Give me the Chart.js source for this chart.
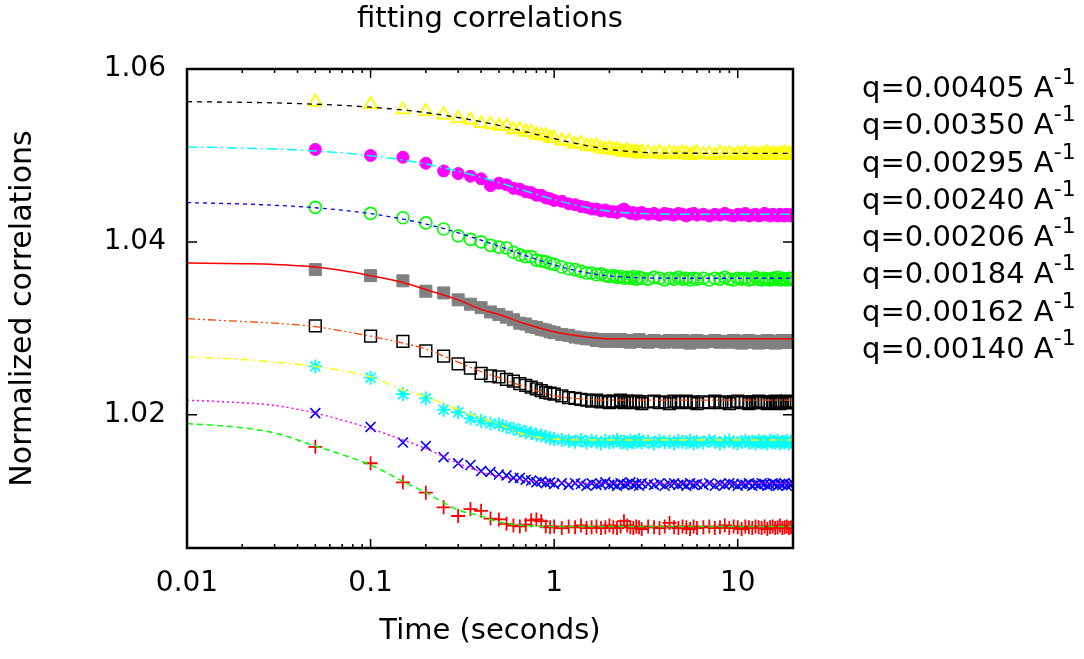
<!DOCTYPE html>
<html>
<head>
<meta charset="utf-8">
<script src="https://cdn.jsdelivr.net/npm/chart.js@4.4.1/dist/chart.umd.min.js"></script>
<style>
  html, body { margin: 0; padding: 0; background: #ffffff; }
  #wrap { position: relative; width: 1084px; height: 659px; overflow: hidden; }
  #legend { position: absolute; left: 862px; top: 70px; font-family: 'DejaVu Sans', sans-serif; font-size: 29px; line-height: 34.3px; color: #000; white-space: nowrap; }
  #legend .sup { font-size: 22px; position: relative; top: -13px; }
</style>
</head>
<body>
<div id="wrap">
  <canvas id="c" width="1084" height="659"></canvas>
  <div id="legend"></div>
</div>
<script>
// ---- data ----
const chartTitle = 'fitting correlations';
const xTitle = 'Time (seconds)';
const yTitle = 'Normalized correlations';
const qLabels = ['q=0.00405 A', 'q=0.00350 A', 'q=0.00295 A', 'q=0.00240 A', 'q=0.00206 A', 'q=0.00184 A', 'q=0.00162 A', 'q=0.00140 A'];
const qUnitExp = '-1';

const xTickValues = [0.01, 0.1, 1, 10];
const xTickLabels = ['0.01', '0.1', '1', '10'];
const xTickMarks = [0.01,0.02,0.03,0.04,0.05,0.06,0.07,0.08,0.09,0.1,0.2,0.3,0.4,0.5,0.6,0.7,0.8,0.9,1,2,3,4,5,6,7,8,9,10,20];
const yTickValues = [1.02, 1.04, 1.06];
const yTickLabels = ['1.02', '1.04', '1.06'];

const times = [
  0.05,0.1,0.15,0.2,0.25,0.3,0.35,0.4,0.45,0.5,0.55,0.6,0.65,0.7,0.75,0.8,0.85,0.9,0.95,1.0,
  1.1,1.2,1.3,1.4,1.5,1.6,1.7,1.8,1.9,2.0,2.1,2.2,2.3,2.4,2.5,2.6,2.7,2.8,2.9,3.0,
  3.25,3.5,3.75,4.0,4.25,4.5,4.75,5.0,5.25,5.5,5.75,6.0,
  6.5,7,7.5,8,8.5,9,9.5,10,10.5,11,11.5,12,12.5,13,13.5,14,14.5,15,15.5,16,16.5,17,17.5,18,18.5,19,19.5,20
];

const meas00405 = [
  1.0562,1.0559,1.0553,1.0551,1.0547,1.0543,1.0541,1.0537,1.0536,1.0534,1.0534,1.0530,1.0530,1.0527,1.0527,1.0524,1.0523,1.0523,1.0520,1.0520,
  1.0517,1.0516,1.0513,1.0514,1.0511,1.0510,1.0511,1.0508,1.0507,1.0508,1.0506,1.0507,1.0505,1.0504,1.0506,1.0503,1.0504,1.0504,1.0502,1.0504,
  1.0503,1.0502,1.0504,1.0501,1.0503,1.0502,1.0501,1.0503,1.0502,1.0500,1.0502,1.0503,
  1.0501,1.0502,1.0500,1.0503,1.0501,1.0502,1.0500,1.0502,1.0501,1.0503,1.0500,1.0502,1.0501,1.0500,1.0502,1.0501,1.0503,1.0500,1.0502,1.0501,1.0500,1.0502,1.0501,1.0503,1.0500,1.0502,1.0501,1.0502
];
const meas00350 = [
  1.0507,1.0500,1.0498,1.0491,1.0482,1.0479,1.0476,1.0473,1.0465,1.0468,1.0466,1.0462,1.0461,1.0458,1.0457,1.0454,1.0454,1.0451,1.0450,1.0448,
  1.0447,1.0444,1.0443,1.0441,1.0440,1.0438,1.0438,1.0436,1.0437,1.0435,1.0435,1.0434,1.0436,1.0438,1.0435,1.0433,1.0434,1.0432,1.0433,1.0434,
  1.0432,1.0433,1.0431,1.0433,1.0432,1.0431,1.0433,1.0432,1.0430,1.0432,1.0433,1.0431,
  1.0432,1.0430,1.0432,1.0431,1.0433,1.0431,1.0430,1.0432,1.0431,1.0433,1.0430,1.0431,1.0432,1.0430,1.0431,1.0433,1.0431,1.0430,1.0432,1.0431,1.0430,1.0432,1.0431,1.0430,1.0432,1.0431,1.0430,1.0432
];
const meas00295 = [
  1.0440,1.0433,1.0428,1.0422,1.0415,1.0407,1.0403,1.0400,1.0396,1.0394,1.0393,1.0388,1.0385,1.0383,1.0383,1.0379,1.0378,1.0377,1.0375,1.0374,
  1.0371,1.0369,1.0368,1.0366,1.0364,1.0364,1.0362,1.0363,1.0361,1.0360,1.0361,1.0359,1.0360,1.0358,1.0359,1.0358,1.0360,1.0357,1.0359,1.0358,
  1.0357,1.0359,1.0358,1.0356,1.0358,1.0357,1.0359,1.0357,1.0358,1.0356,1.0358,1.0357,
  1.0358,1.0356,1.0358,1.0357,1.0359,1.0357,1.0356,1.0358,1.0357,1.0358,1.0356,1.0357,1.0359,1.0357,1.0356,1.0358,1.0357,1.0356,1.0358,1.0357,1.0359,1.0356,1.0358,1.0357,1.0356,1.0358,1.0357,1.0358
];
const meas00240 = [
  1.0368,1.0361,1.0355,1.0343,1.0341,1.0333,1.0328,1.0324,1.0319,1.0316,1.0313,1.0310,1.0306,1.0305,1.0302,1.0301,1.0299,1.0298,1.0296,1.0295,
  1.0293,1.0292,1.0290,1.0289,1.0288,1.0288,1.0286,1.0287,1.0285,1.0287,1.0286,1.0285,1.0287,1.0285,1.0286,1.0284,1.0286,1.0285,1.0287,1.0285,
  1.0284,1.0286,1.0285,1.0284,1.0286,1.0285,1.0284,1.0286,1.0285,1.0283,1.0285,1.0286,
  1.0284,1.0285,1.0286,1.0284,1.0285,1.0284,1.0286,1.0285,1.0283,1.0285,1.0286,1.0284,1.0285,1.0283,1.0285,1.0284,1.0286,1.0284,1.0285,1.0283,1.0285,1.0284,1.0286,1.0284,1.0285,1.0284,1.0286,1.0285
];
const meas00206 = [
  1.0303,1.0291,1.0285,1.0274,1.0268,1.0259,1.0254,1.0248,1.0245,1.0244,1.0241,1.0239,1.0236,1.0234,1.0232,1.0230,1.0228,1.0226,1.0225,1.0224,
  1.0222,1.0220,1.0219,1.0218,1.0217,1.0216,1.0217,1.0215,1.0216,1.0214,1.0216,1.0215,1.0217,1.0214,1.0216,1.0215,1.0214,1.0216,1.0215,1.0213,
  1.0215,1.0216,1.0214,1.0215,1.0213,1.0216,1.0214,1.0215,1.0216,1.0214,1.0215,1.0213,
  1.0215,1.0214,1.0216,1.0214,1.0215,1.0213,1.0215,1.0216,1.0214,1.0215,1.0213,1.0215,1.0214,1.0216,1.0214,1.0215,1.0213,1.0215,1.0214,1.0216,1.0214,1.0213,1.0215,1.0214,1.0216,1.0214,1.0215,1.0214
];
const meas00184 = [
  1.0256,1.0243,1.0224,1.0219,1.0206,1.0203,1.0196,1.0193,1.0190,1.0189,1.0186,1.0184,1.0182,1.0180,1.0179,1.0177,1.0176,1.0175,1.0173,1.0172,
  1.0171,1.0170,1.0169,1.0171,1.0168,1.0170,1.0169,1.0167,1.0170,1.0168,1.0169,1.0171,1.0168,1.0169,1.0167,1.0170,1.0168,1.0169,1.0171,1.0168,
  1.0169,1.0167,1.0170,1.0168,1.0169,1.0167,1.0170,1.0169,1.0168,1.0170,1.0167,1.0169,
  1.0168,1.0170,1.0169,1.0167,1.0169,1.0170,1.0168,1.0167,1.0169,1.0170,1.0168,1.0169,1.0167,1.0170,1.0168,1.0169,1.0167,1.0170,1.0169,1.0168,1.0170,1.0167,1.0169,1.0168,1.0170,1.0167,1.0169,1.0168
];
const meas00162 = [
  1.0202,1.0186,1.0168,1.0164,1.0151,1.0144,1.0142,1.0135,1.0134,1.0131,1.0130,1.0127,1.0127,1.0125,1.0124,1.0122,1.0123,1.0121,1.0122,1.0120,
  1.0121,1.0119,1.0121,1.0120,1.0118,1.0121,1.0119,1.0120,1.0122,1.0119,1.0120,1.0118,1.0121,1.0119,1.0120,1.0122,1.0119,1.0120,1.0118,1.0121,
  1.0120,1.0119,1.0121,1.0118,1.0120,1.0121,1.0119,1.0120,1.0118,1.0121,1.0119,1.0120,
  1.0119,1.0121,1.0118,1.0120,1.0119,1.0121,1.0120,1.0118,1.0120,1.0119,1.0121,1.0118,1.0120,1.0119,1.0121,1.0120,1.0118,1.0119,1.0121,1.0120,1.0118,1.0120,1.0119,1.0121,1.0118,1.0120,1.0119,1.0121
];
const meas00140 = [
  1.0163,1.0144,1.0122,1.0110,1.0093,1.0083,1.0091,1.0089,1.0080,1.0079,1.0074,1.0072,1.0071,1.0073,1.0078,1.0079,1.0077,1.0071,1.0070,1.0071,
  1.0069,1.0071,1.0070,1.0072,1.0069,1.0070,1.0071,1.0069,1.0070,1.0072,1.0070,1.0069,1.0071,1.0077,1.0072,1.0070,1.0069,1.0071,1.0070,1.0068,
  1.0071,1.0070,1.0069,1.0071,1.0075,1.0070,1.0069,1.0071,1.0070,1.0068,1.0071,1.0069,
  1.0070,1.0071,1.0069,1.0070,1.0072,1.0069,1.0071,1.0070,1.0068,1.0071,1.0070,1.0069,1.0071,1.0070,1.0069,1.0071,1.0068,1.0070,1.0071,1.0069,1.0070,1.0072,1.0069,1.0070,1.0071,1.0069,1.0070,1.0071
];

const fitTimes = [0.01,0.02,0.03,0.05,0.07,0.1,0.15,0.2,0.3,0.4,0.5,0.7,1,1.5,2,3,5,10,20];
const fit00405 = [1.05622,1.05615,1.05608,1.05593,1.05579,1.05558,1.05526,1.05495,1.05439,1.0539,1.05347,1.05274,1.05195,1.05114,1.0507,1.05036,1.05026,1.05025,1.05025];
const fit00350 = [1.05098,1.05086,1.05074,1.05052,1.05029,1.04997,1.04947,1.04901,1.04818,1.04747,1.04686,1.04589,1.0449,1.04399,1.04356,1.04328,1.0432,1.0432,1.0432];
const fit00295 = [1.04455,1.04439,1.04424,1.04395,1.04367,1.04327,1.04264,1.04207,1.04106,1.04021,1.0395,1.03841,1.03734,1.03644,1.03607,1.03585,1.0358,1.0358,1.0358];
const fit00240 = [1.03755,1.03748,1.0374,1.0371,1.0367,1.0361,1.0353,1.0345,1.0333,1.0322,1.0316,1.0305,1.0296,1.029,1.0288,1.0288,1.0288,1.0288,1.0288];
const fit00206 = [1.03112,1.0308,1.0306,1.0302,1.0297,1.0291,1.0283,1.0276,1.0261,1.025,1.0243,1.0232,1.0222,1.0218,1.0217,1.0217,1.0217,1.0217,1.0217];
const fit00184 = [1.0267,1.0264,1.0261,1.0256,1.0251,1.0244,1.0229,1.0221,1.0206,1.0196,1.0189,1.0177,1.0172,1.0171,1.0171,1.0171,1.0171,1.0171,1.0171];
const fit00162 = [1.0217,1.0214,1.0211,1.0202,1.0194,1.0184,1.0171,1.0161,1.0144,1.0134,1.0129,1.0124,1.0122,1.0121,1.0121,1.0121,1.0121,1.0121,1.0121];
const fit00140 = [1.019,1.0185,1.0179,1.0164,1.0154,1.0142,1.0123,1.011,1.009,1.0083,1.0076,1.0072,1.0071,1.0071,1.0071,1.0071,1.0071,1.0071,1.0071];

// ---- styles ----
const measSets = [meas00405, meas00350, meas00295, meas00240, meas00206, meas00184, meas00162, meas00140];
const fitSets = [fit00405, fit00350, fit00295, fit00240, fit00206, fit00184, fit00162, fit00140];
const markerStyles = [
  { pointStyle: 'triangle', color: '#ffff00', fill: false, radius: 7.5, bw: 1.8 },
  { pointStyle: 'circle',   color: '#ff00ff', fill: true,  radius: 6, bw: 1 },
  { pointStyle: 'circle',   color: '#00ff00', fill: false, radius: 6, bw: 1.6 },
  { pointStyle: 'rect',     color: '#808080', fill: true,  radius: 8.5, bw: 1 },
  { pointStyle: 'rect',     color: '#000000', fill: false, radius: 8.3, bw: 1.5 },
  { pointStyle: 'star',     color: '#00ffff', fill: false, radius: 7, bw: 1.8 },
  { pointStyle: 'crossRot', color: '#0000ff', fill: false, radius: 7, bw: 1.6 },
  { pointStyle: 'cross',    color: '#ff0000', fill: false, radius: 7, bw: 1.8 }
];
const fitStyles = [
  { color: '#000000', dash: [5, 5], width: 1.3 },
  { color: '#00ffff', dash: [10, 4, 2, 4], width: 1.5 },
  { color: '#0000ff', dash: [4, 4], width: 1.3 },
  { color: '#ff0000', dash: [], width: 1.5 },
  { color: '#ff4500', dash: [8, 3, 2, 3, 2, 3], width: 1.3 },
  { color: '#ffff00', dash: [8, 4, 2, 4], width: 1.5 },
  { color: '#ff00ff', dash: [2, 3], width: 1.5 },
  { color: '#00ff00', dash: [6, 4], width: 1.5 }
];

const datasets = [];
fitSets.forEach((arr, k) => {
  const st = fitStyles[k];
  datasets.push({
    label: qLabels[k] + ' fit',
    data: fitTimes.map((t, i) => ({ x: t, y: arr[i] })),
    showLine: true,
    borderColor: st.color,
    borderWidth: st.width,
    borderDash: st.dash,
    pointRadius: 0,
    cubicInterpolationMode: 'monotone',
    fill: false,
    order: 0
  });
});
measSets.forEach((arr, k) => {
  const st = markerStyles[k];
  const n = Math.min(arr.length, times.length);
  datasets.push({
    label: qLabels[k],
    data: times.slice(0, n).map((t, i) => ({ x: t, y: arr[i] })),
    showLine: false,
    pointStyle: st.pointStyle,
    pointRadius: st.radius,
    pointBorderColor: st.color,
    pointBackgroundColor: st.fill ? st.color : 'rgba(0,0,0,0)',
    pointBorderWidth: st.bw,
    order: 1
  });
});

// legend as real text
const legendEl = document.getElementById('legend');
legendEl.innerHTML = qLabels.map(l => '<div>' + l + '<span class="sup">' + qUnitExp + '</span></div>').join('');

const frameTicks = {
  id: 'frameTicks',
  afterDatasetsDraw(chart) {
    const { ctx, chartArea: a, scales } = chart;
    const x = scales.x, y = scales.y;
    ctx.save();
    ctx.strokeStyle = '#000000';
    ctx.lineWidth = 1.5;
    ctx.setLineDash([]);
    ctx.beginPath();
    x.ticks.forEach(t => {
      const px = x.getPixelForValue(t.value);
      if (px < a.left - 0.5 || px > a.right + 0.5) return;
      const lg = Math.log10(t.value);
      const major = Math.abs(lg - Math.round(lg)) < 1e-9;
      const len = major ? 9 : 4;
      ctx.moveTo(px, a.bottom); ctx.lineTo(px, a.bottom - len);
      ctx.moveTo(px, a.top); ctx.lineTo(px, a.top + len);
    });
    y.ticks.forEach(t => {
      const py = y.getPixelForValue(t.value);
      ctx.moveTo(a.left, py); ctx.lineTo(a.left + 10, py);
      ctx.moveTo(a.right, py); ctx.lineTo(a.right - 10, py);
    });
    ctx.stroke();
    ctx.lineWidth = 2.5;
    ctx.strokeRect(a.left, a.top, a.right - a.left, a.bottom - a.top);
    ctx.restore();
  }
};

const FONT = "'DejaVu Sans', sans-serif";

new Chart(document.getElementById('c'), {
  type: 'scatter',
  data: { datasets },
  options: {
    responsive: false,
    animation: false,
    events: [],
    devicePixelRatio: 1,
    layout: { padding: { left: 0, right: 291, top: 0, bottom: 0 } },
    plugins: {
      legend: { display: false },
      tooltip: { enabled: false },
      title: {
        display: true,
        text: chartTitle,
        fullSize: false,
        color: '#000000',
        font: { family: FONT, size: 29, weight: 'normal', lineHeight: 1.2 },
        padding: { top: 2, bottom: 32.2 }
      }
    },
    scales: {
      x: {
        type: 'logarithmic',
        min: 0.01,
        max: 20,
        afterBuildTicks(scale) { scale.ticks = xTickMarks.map(v => ({ value: v })); },
        afterFit(scale) { scale.height = 111; },
        grid: { display: false, drawTicks: false },
        border: { display: false },
        ticks: {
          autoSkip: false,
          maxRotation: 0,
          minRotation: 0,
          padding: 19,
          color: '#000000',
          font: { family: FONT, size: 28 },
          callback(value) {
            const idx = xTickValues.findIndex(v => Math.abs(v - value) / v < 1e-6);
            return idx >= 0 ? xTickLabels[idx] : '';
          }
        },
        title: {
          display: true,
          text: xTitle,
          color: '#000000',
          font: { family: FONT, size: 29 },
          padding: { top: 0, bottom: 10 }
        }
      },
      y: {
        type: 'linear',
        min: 1.0046,
        max: 1.06,
        afterBuildTicks(scale) { scale.ticks = yTickValues.map(v => ({ value: v })); },
        afterFit(scale) { scale.width = 187; },
        grid: { display: false, drawTicks: false },
        border: { display: false },
        ticks: {
          padding: 21,
          color: '#000000',
          font: { family: FONT, size: 28 },
          callback(value) {
            const idx = yTickValues.findIndex(v => Math.abs(v - value) < 1e-9);
            return idx >= 0 ? yTickLabels[idx] : '';
          }
        },
        title: {
          display: true,
          text: yTitle,
          color: '#000000',
          font: { family: FONT, size: 30 },
          padding: { top: 5, bottom: 0 }
        }
      }
    }
  },
  plugins: [frameTicks]
});
</script>
</body>
</html>
